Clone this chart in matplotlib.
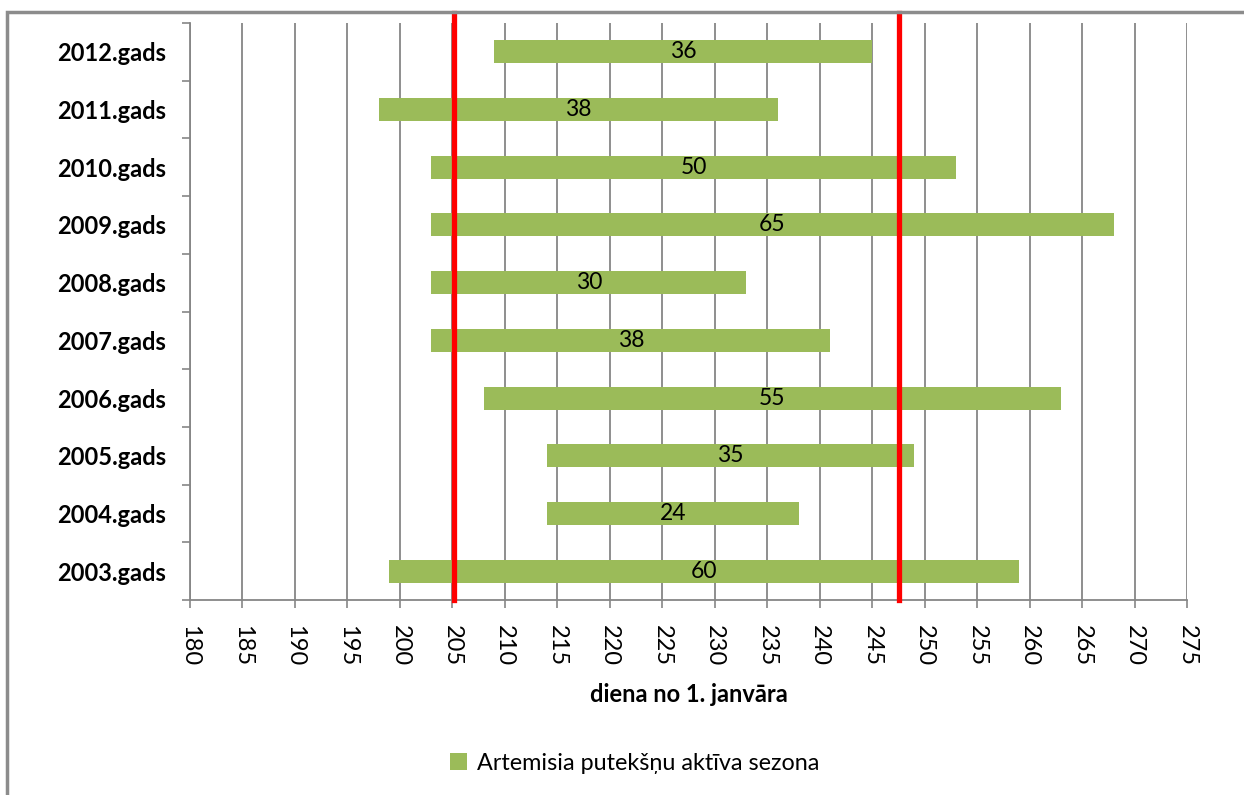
import matplotlib.pyplot as plt
from matplotlib.patches import Rectangle
import numpy as np

plt.rcParams['font.family'] = ['Lato', 'DejaVu Sans']

# season data: year label, start day, length of season (days)
years = ['2003.gads', '2004.gads', '2005.gads', '2006.gads', '2007.gads',
         '2008.gads', '2009.gads', '2010.gads', '2011.gads', '2012.gads']
start_day = [199, 214, 214, 208, 203, 203, 203, 203, 198, 209]
season_len = [60, 24, 35, 55, 38, 30, 65, 50, 38, 36]
# mean start / end lines
mean_lines = [205.2, 247.6]

green = '#9BBB59'
grid_gray = '#868686'

fig = plt.figure(figsize=(12.44, 7.95), dpi=100)
ax = fig.add_axes([190 / 1244, 1 - 600 / 795, 997 / 1244, 577 / 795])

y = np.arange(len(years))
bars = ax.barh(y, season_len, left=start_day, height=0.4, color=green,
               label='Artemisia putekšņu aktīva sezona', zorder=2)

for yi, s, l in zip(y, start_day, season_len):
    ax.text(s + l / 2, yi, str(l), ha='center', va='center', fontsize=16.5,
            color='black', zorder=4)

for v in mean_lines:
    ax.axvline(v, ymin=0, ymax=1.017, color='red', lw=3.8, zorder=3, clip_on=False)

ax.set_xlim(180, 275)
ax.set_ylim(-0.5, len(years) - 0.5)
ax.set_xticks(np.arange(180, 276, 5))
ax.set_xticklabels([str(t) for t in range(180, 276, 5)], rotation=270,
                   fontsize=17, color='black')
ax.set_yticks(y)
ax.set_yticklabels(years, fontsize=17, fontweight='bold')
ax.set_yticks(np.arange(-0.5, len(years), 1), minor=True)

ax.tick_params(axis='y', which='major', length=0, pad=17)
ax.tick_params(axis='y', which='minor', length=6, width=1.2, color=grid_gray)
ax.tick_params(axis='x', length=6, width=1.2, color=grid_gray, pad=12)

ax.grid(axis='x', color=grid_gray, lw=1.3, zorder=1)
ax.set_axisbelow(True)

for side in ['top', 'right']:
    ax.spines[side].set_visible(False)
for side in ['left', 'bottom']:
    ax.spines[side].set_color(grid_gray)
    ax.spines[side].set_linewidth(1.3)

ax.set_xlabel('diena no 1. janvāra', fontsize=17, fontweight='bold', labelpad=12)

fig.legend(handles=[bars], loc='center', bbox_to_anchor=(0.51, 0.04),
           frameon=False, fontsize=16.8, handlelength=0.75, handleheight=0.75,
           handletextpad=0.4)

# outer chart frame (cropped on the right and bottom)
fig.patches.append(Rectangle((7 / 1244, -0.1), 1.2, 1 - 12 / 795 + 0.1,
                             transform=fig.transFigure, fill=False,
                             edgecolor='#8C8C8C', lw=2.5))

fig.savefig('out.png', dpi=100)
